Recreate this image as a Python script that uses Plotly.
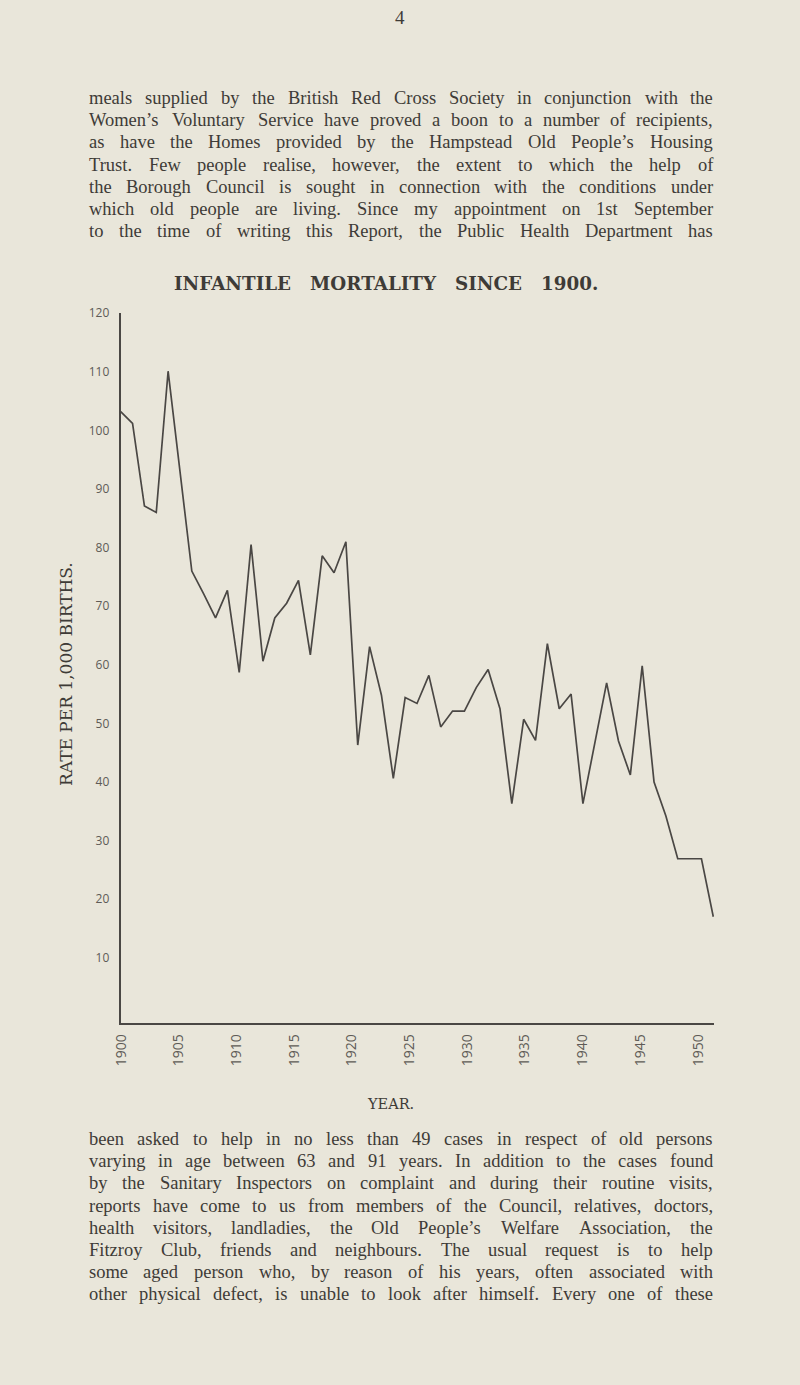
import plotly.graph_objects as go

# ---------------- data ----------------
years = list(range(1900, 1951))
rates = [103.2, 101.2, 87.1, 86.0, 110.1, 92.9, 76.0, 72.1, 68.0, 72.7,
         58.7, 80.5, 60.6, 68.0, 70.5, 74.4, 61.7, 78.6, 75.7, 81.0,
         46.3, 63.1, 54.8, 40.6, 54.4, 53.4, 58.2, 49.4, 52.1, 52.1,
         56.1, 59.2, 52.5, 36.3, 50.7, 47.1, 63.6, 52.5, 55.0, 36.3,
         46.4, 56.9, 47.0, 41.2, 59.8, 40.0, 34.2, 26.9, 26.9, 26.9, 17.0]
tick_years = [1900, 1905, 1910, 1915, 1920, 1925, 1930, 1935, 1940, 1945, 1950]
y_ticks = [10, 20, 30, 40, 50, 60, 70, 80, 90, 100, 110, 120]

title_text = "INFANTILE&nbsp;&nbsp;&nbsp;MORTALITY&nbsp;&nbsp;&nbsp;SINCE&nbsp;&nbsp;&nbsp;1900."
y_title = "RATE PER 1,000 BIRTHS."
x_title = "YEAR."
page_no = "4"

top_lines = [
    "meals supplied by the British Red Cross Society in conjunction with the",
    "Women’s Voluntary Service have proved a boon to a number of recipients,",
    "as have the Homes provided by the Hampstead Old People’s Housing",
    "Trust. Few people realise, however, the extent to which the help of",
    "the Borough Council is sought in connection with the conditions under",
    "which old people are living. Since my appointment on 1st September",
    "to the time of writing this Report, the Public Health Department has",
]
bottom_lines = [
    "been asked to help in no less than 49 cases in respect of old persons",
    "varying in age between 63 and 91 years. In addition to the cases found",
    "by the Sanitary Inspectors on complaint and during their routine visits,",
    "reports have come to us from members of the Council, relatives, doctors,",
    "health visitors, landladies, the Old People’s Welfare Association, the",
    "Fitzroy Club, friends and neighbours. The usual request is to help",
    "some aged person who, by reason of his years, often associated with",
    "other physical defect, is unable to look after himself. Every one of these",
]

# ---------------- style ----------------
W, H = 800, 1385
BG = "#e9e6da"
INK = "#3e3b37"
LINE = "#4a4744"
TICK_INK = "#5e5b56"
BODY_FONT = "Liberation Serif"
BODY_SIZE = 18.5

# Times / Liberation Serif advance widths (per 1000 em)
TIMES = {' ': 250, ',': 250, '.': 250, '-': 333, '’': 333, "'": 180, ':': 278, ';': 278}
for d in "0123456789":
    TIMES[d] = 500
TIMES.update(dict(zip("ABCDEFGHIJKLMNOPQRSTUVWXYZ",
                      [722, 667, 667, 722, 611, 556, 722, 722, 333, 389, 722, 611, 889,
                       722, 722, 556, 722, 667, 556, 611, 722, 722, 944, 722, 722, 611])))
TIMES.update(dict(zip("abcdefghijklmnopqrstuvwxyz",
                      [444, 500, 444, 500, 444, 333, 500, 500, 278, 278, 500, 278, 778,
                       500, 500, 500, 500, 333, 389, 278, 500, 500, 722, 500, 500, 444])))


def word_width(w, size):
    return sum(TIMES.get(c, 500) for c in w) * size / 1000.0


def justified(line, ypix, x0=88.0, x1=712.0, size=BODY_SIZE):
    words = line.split()
    widths = [word_width(w, size) for w in words]
    gap = (x1 - x0 - sum(widths)) / (len(words) - 1)
    out = []
    x = x0
    for w, wd in zip(words, widths):
        out.append(dict(text=w, x=x / W, y=1 - ypix / H, xref="paper", yref="paper",
                        xanchor="left", yanchor="middle", showarrow=False, borderpad=0,
                        font=dict(family=BODY_FONT, size=size, color=INK)))
        x += wd + gap
    return out


annotations = []
for i, ln in enumerate(top_lines):
    annotations += justified(ln, 98 + i * 22.2)
for i, ln in enumerate(bottom_lines):
    annotations += justified(ln, 1139 + i * 22.2)


def label(text, xpix, ypix, family, size, angle=0):
    return dict(text=text, x=xpix / W, y=1 - ypix / H, xref="paper", yref="paper",
                xanchor="center", yanchor="middle", showarrow=False, textangle=angle,
                font=dict(family=family, size=size, color=INK))


annotations += [
    label(page_no, 400, 18, BODY_FONT, 19),
    label("<b>" + title_text + "</b>", 386, 283, "DejaVu Serif", 18.3),
    label(y_title, 66, 674, "DejaVu Serif", 17, angle=-90),
    label(x_title, 390, 1104, "DejaVu Serif", 14.5),
]

# ---------------- figure ----------------
fig = go.Figure()
fig.add_trace(go.Scatter(x=years, y=rates, mode="lines",
                         line=dict(color=LINE, width=1.7), hoverinfo="skip", showlegend=False))
# invisible helper so the label axis is drawn
fig.add_trace(go.Scatter(x=[tick_years[0]], y=[rates[0]], xaxis="x2", mode="markers",
                         marker=dict(opacity=0), hoverinfo="skip", showlegend=False))

x_dom = [120.5 / W, 714 / W]
y_dom = [1 - 1023.4 / H, 1 - 313.2 / H]

fig.update_layout(
    width=W, height=H, margin=dict(l=0, r=0, t=0, b=0),
    paper_bgcolor=BG, plot_bgcolor=BG, showlegend=False,
    annotations=annotations,
    xaxis=dict(domain=x_dom, range=[1899.983, 1950.059], anchor="y",
               showline=True, linecolor=LINE, linewidth=1.7, mirror=False,
               showticklabels=False, ticks="", showgrid=False, zeroline=False,
               automargin=False),
    xaxis2=dict(domain=x_dom, range=[1899.957, 1951.386], overlaying="x", anchor="y",
                side="bottom", tickvals=tick_years, ticktext=[str(t) for t in tick_years],
                tickangle=-90, ticks="", showline=False, showgrid=False, zeroline=False,
                tickfont=dict(family="Open Sans", size=14, color=TICK_INK),
                ticklabelstandoff=7, automargin=False),
    yaxis=dict(domain=y_dom, range=[-1.2, 120], tickvals=y_ticks,
               ticktext=[str(t) for t in y_ticks], showline=True, linecolor=LINE,
               linewidth=1.7, ticks="", showgrid=False, zeroline=False,
               tickfont=dict(family="Open Sans", size=12, color=TICK_INK),
               ticklabelstandoff=7, automargin=False),
)

fig.write_html("out.html",
               config={"displayModeBar": False},
               post_script="document.body.style.margin='0';document.body.style.padding='0';"
                           "document.body.style.background='" + BG + "';")
